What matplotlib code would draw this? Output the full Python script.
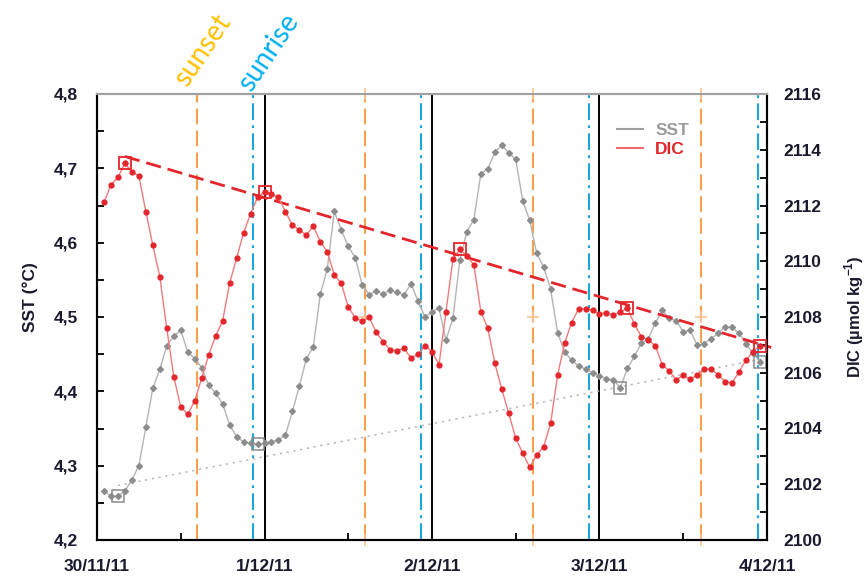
import matplotlib.pyplot as plt
import numpy as np
from matplotlib.ticker import MultipleLocator, FuncFormatter

plt.rcParams['font.family'] = ['Liberation Sans', 'DejaVu Sans']
plt.rcParams['mathtext.fontset'] = 'custom'
plt.rcParams['mathtext.rm'] = 'Liberation Sans'
plt.rcParams['mathtext.bf'] = 'Liberation Sans:bold'

# hourly samples, 30/11/11 01:00 -> 03/12/11 23:00
hours = np.arange(1, 96)

sst = [4.266, 4.259, 4.259, 4.266, 4.281, 4.300, 4.352, 4.404, 4.430, 4.461,
       4.474, 4.482, 4.453, 4.444, 4.432, 4.408, 4.398, 4.383, 4.355, 4.339,
       4.332, 4.330, 4.329, 4.330, 4.332, 4.335, 4.341, 4.373, 4.407, 4.444,
       4.460, 4.531, 4.565, 4.642, 4.617, 4.595, 4.580, 4.543, 4.530, 4.535,
       4.531, 4.536, 4.533, 4.530, 4.545, 4.521, 4.500, 4.507, 4.512, 4.469,
       4.498, 4.577, 4.615, 4.631, 4.693, 4.699, 4.722, 4.731, 4.721, 4.712,
       4.656, 4.630, 4.586, 4.567, 4.537, 4.479, 4.453, 4.442, 4.434, 4.430,
       4.425, 4.421, 4.417, 4.415, 4.405, 4.431, 4.447, 4.465, 4.471, 4.492,
       4.509, 4.498, 4.495, 4.480, 4.482, 4.462, 4.464, 4.471, 4.478, 4.487,
       4.486, 4.478, 4.464, 4.451, 4.440]

dic = [2112.11, 2112.74, 2113.01, 2113.51, 2113.21, 2113.06, 2111.78, 2110.57, 2109.45, 2107.59,
       2105.86, 2104.78, 2104.51, 2104.99, 2105.80, 2106.64, 2107.32, 2107.86, 2109.21, 2110.11,
       2111.02, 2111.70, 2112.29, 2112.50, 2112.41, 2112.29, 2111.78, 2111.30, 2111.12, 2110.94,
       2111.26, 2110.70, 2110.34, 2109.51, 2109.21, 2108.36, 2107.97, 2107.85, 2107.99, 2107.45,
       2107.11, 2106.82, 2106.79, 2106.88, 2106.52, 2106.67, 2106.96, 2106.76, 2106.29, 2108.18,
       2110.07, 2110.43, 2110.19, 2109.87, 2108.19, 2107.59, 2106.34, 2105.41, 2104.54, 2103.65,
       2103.11, 2102.61, 2103.05, 2103.35, 2104.19, 2105.92, 2107.06, 2107.80, 2108.29, 2108.29,
       2108.25, 2108.12, 2108.15, 2108.07, 2108.19, 2108.31, 2107.75, 2107.29, 2107.18, 2106.97,
       2106.28, 2106.07, 2105.74, 2105.92, 2105.76, 2105.92, 2106.13, 2106.13, 2105.92, 2105.68,
       2105.64, 2106.04, 2106.46, 2106.76, 2106.96]

# daily SST minima / DIC maxima (hour of sample)
sst_min_h = [3, 23, 75, 95]
dic_max_h = [4, 24, 52, 76, 95]

sunset_h = [14.3, 38.4, 62.5, 86.6]
sunrise_h = [22.35, 46.4, 70.5, 94.7]
date_labels = ['30/11/11', '1/12/11', '2/12/11', '3/12/11', '4/12/11']

t = hours / 24.0
sst = np.array(sst)
dic = np.array(dic)

fig = plt.figure(figsize=(8.64, 5.79), dpi=100)
ax = fig.add_axes([97 / 864, 1 - 540 / 579, 670 / 864, 446 / 579])
ax2 = ax.twinx()

RED = '#e3262b'
GREY = '#8c8c8c'
ORANGE = '#f9a04e'
BLUE = '#1ba6e0'

# midnight lines
for d in [1, 2, 3]:
    ax.axvline(d, color='black', lw=1.4, zorder=1)

for i, h in enumerate(sunset_h):
    ax.axvline(h / 24, color=ORANGE, lw=1.5, dashes=(7.5, 3), zorder=1)
    if i > 0:
        ax.plot([h / 24] * 3, [4.2, 4.5, 4.8], ls='none', marker='+', ms=9,
                mew=1.2, color='#fbc48f', clip_on=False, zorder=2)
for h in sunrise_h:
    ax.axvline(h / 24, color=BLUE, lw=1.5, dashes=(8, 2.5, 1.4, 2.5), zorder=1)

# SST series + trend through the daily minima
ax.plot(t, sst, color='#b4b4b4', lw=1, marker='D', ms=3, mfc=GREY, mec=GREY, zorder=3)
idx = [hours.tolist().index(h) for h in sst_min_h]
ax.plot(t[idx], sst[idx], ls='none', marker='s', ms=8, mfc='none', mec='#8a8a8a', mew=1.1, zorder=4)
ax.plot(t[idx], sst[idx], ls='none', marker='+', ms=5, mec='#8a8a8a', mew=0.8, zorder=4)
k, b = np.polyfit(np.array(sst_min_h), sst[idx], 1)
xs = np.array([3, 96.6])
ax.plot(xs / 24, k * xs + b, color='#b8b8b8', lw=1.1, ls=(0, (1.5, 3)), clip_on=False, zorder=2)

# DIC series + trend through the daily maxima
ax2.plot(t, dic, color='#f07a7c', lw=1, marker='o', ms=3.5, mfc=RED, mec=RED, zorder=3)
idx = [hours.tolist().index(h) for h in dic_max_h]
ax2.plot(t[idx], dic[idx], ls='none', marker='s', ms=8, mfc='none', mec=RED, mew=1.3, zorder=4)
ax2.plot(t[idx], dic[idx], ls='none', marker='+', ms=5, mec=RED, mew=0.8, zorder=4)
k, b = np.polyfit(np.array(dic_max_h), dic[idx], 1)
xs = np.array([4, 96.6])
ax2.plot(xs / 24, k * xs + b, color=RED, lw=2, dashes=(5.5, 2.5), clip_on=False, zorder=2)

ax.set_xlim(0, 4)
ax.set_ylim(4.2, 4.8)
ax2.set_ylim(2100, 2116)

ax.set_xticks(range(5))
ax.set_xticklabels(date_labels)
ax.xaxis.set_minor_locator(MultipleLocator(0.5))
ax.yaxis.set_major_locator(MultipleLocator(0.1))
ax.yaxis.set_minor_locator(MultipleLocator(0.05))
ax.yaxis.set_major_formatter(FuncFormatter(lambda v, p: ('%.1f' % v).replace('.', ',')))
ax2.yaxis.set_major_locator(MultipleLocator(2))
ax2.yaxis.set_minor_locator(MultipleLocator(1))

for a in (ax, ax2):
    a.tick_params(labelsize=12.5, labelcolor='#1a1a2e')
for lab in ax.get_xticklabels() + ax.get_yticklabels() + ax2.get_yticklabels():
    lab.set_fontweight('bold')

ax.tick_params(axis='both', which='both', direction='in', width=1.3)
ax.tick_params(axis='x', which='major', length=0, pad=14)
ax.tick_params(axis='x', which='minor', length=5)
ax.tick_params(axis='y', which='both', length=5, pad=14, right=False)
ax2.tick_params(axis='y', which='both', direction='in', length=5, width=1.3, pad=12)

for a in (ax, ax2):
    for side in ['left', 'right', 'bottom']:
        a.spines[side].set_linewidth(1.5)
        a.spines[side].set_color('black')
    a.spines['top'].set_color('#a0a0a0')
    a.spines['top'].set_linewidth(1.5)

ax.set_ylabel('SST (°C)', fontsize=12.5, fontweight='bold', color='#1a1a2e')
ax.yaxis.set_label_coords(-0.088, 0.545)
ax2.set_ylabel(r'DIC (µmol kg$^{\mathbf{-1}}$)', fontsize=12, fontweight='bold',
               color='#1a1a2e', rotation=90)
ax2.yaxis.set_label_coords(1.112, 0.5)

# legend
h1, = ax.plot([], [], color='#a0a0a0', lw=1.5)
h2, = ax.plot([], [], color='#f06b6e', lw=1.5)
leg = ax2.legend([h1, h2], ['SST', 'DIC'], loc='upper left', bbox_to_anchor=(0.763, 0.955),
                 frameon=False, borderpad=0, handlelength=1.5, handletextpad=0.7,
                 labelspacing=0.25, prop=dict(size=12.5, weight='bold'))
leg.get_texts()[0].set_color('#9a9a9a')
leg.get_texts()[1].set_color(RED)

fig.text(187 / 864, 1 - 88 / 579, 'sunset', color='#ffc000', fontsize=20, family='Lato',
         rotation=56, rotation_mode='anchor', ha='left', va='baseline')
fig.text(251 / 864, 1 - 93 / 579, 'sunrise', color='#00b0f0', fontsize=20, family='Lato',
         rotation=56, rotation_mode='anchor', ha='left', va='baseline')

fig.savefig('out.png', dpi=100)
